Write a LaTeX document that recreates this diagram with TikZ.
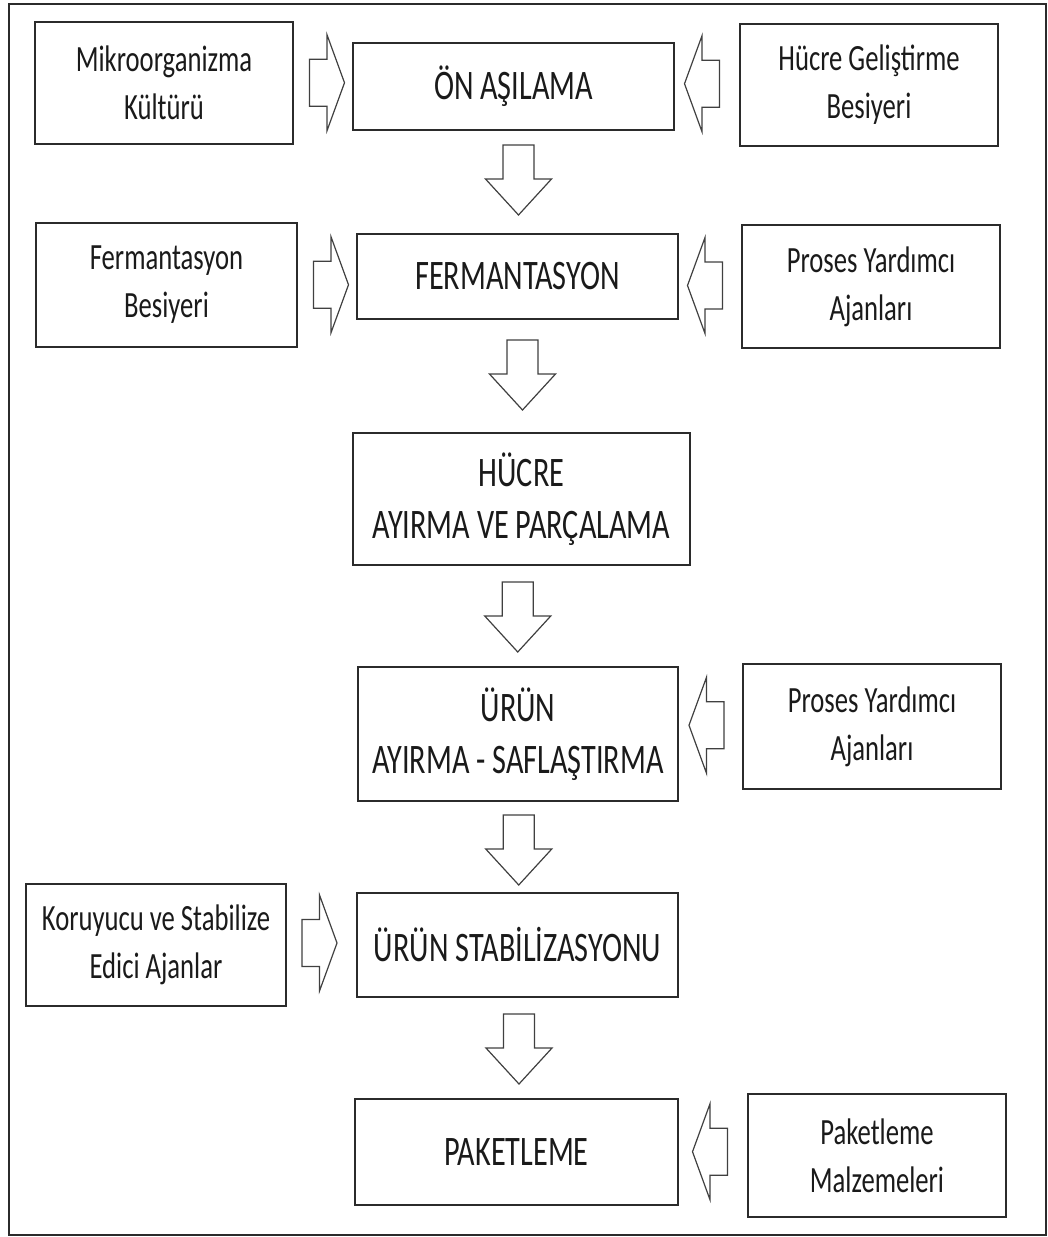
\documentclass[tikz,border=0pt]{standalone}
\usepackage{fontspec}
\setmainfont{Carlito}[FakeStretch=0.72]
\usetikzlibrary{calc}
\definecolor{boxline}{HTML}{2B2B2B}
\definecolor{arrline}{HTML}{404040}
\definecolor{txt}{HTML}{1A1A1A}
\tikzset{
  frame/.style={draw=boxline, line width=1.8pt},
  box/.style={draw=boxline, line width=1.8pt, fill=white, text=txt, align=center, inner sep=0pt,
    font=\fontsize{37}{48}\selectfont},
  mainbox/.style={box, font=\fontsize{42}{52}\selectfont},
  blockarrow/.style={draw=arrline, line width=1.2pt, fill=white, line join=miter},
}
\newcommand\rightblock[1]{\draw[blockarrow, shift={#1}] (-17.5,-23.5) -- (0,-23.5) -- (0,-48) -- (17.5,0) -- (0,48) -- (0,23.5) -- (-17.5,23.5) -- cycle;}
\newcommand\leftblock[1]{\draw[blockarrow, shift={#1}] (17.5,-23.5) -- (0,-23.5) -- (0,-48) -- (-17.5,0) -- (0,48) -- (0,23.5) -- (17.5,23.5) -- cycle;}
\newcommand\downblock[1]{\draw[blockarrow, shift={#1}] (-15.5,-35) -- (15.5,-35) -- (15.5,-1) -- (33,-1) -- (0,35) -- (-33,-1) -- (-15.5,-1) -- cycle;}
\begin{document}
\begin{tikzpicture}[x=1pt, y=-1pt]
\useasboundingbox (0,0) rectangle (1048,1237);
\draw[frame] (9,4) rectangle (1046,1235);

% row 1
\node[box, minimum width=258, minimum height=122] (mikro) at (164,83) {Mikroorganizma\\Kültürü};
\node[mainbox, minimum width=321, minimum height=87] (on) at (513.5,86.5) {ÖN AŞILAMA};
\node[box, minimum width=258, minimum height=122] (hgel) at (869,85) {Hücre Geliştirme\\Besiyeri};
% row 2
\node[box, minimum width=261, minimum height=124] (fbes) at (166.5,285) {Fermantasyon\\Besiyeri};
\node[mainbox, minimum width=321, minimum height=85] (ferm) at (517.5,276.5) {FERMANTASYON};
\node[box, minimum width=258, minimum height=123] (pya1) at (871,286.5) {Proses Yardımcı\\Ajanları};
% row 3
\node[mainbox, minimum width=337, minimum height=132] (hucre) at (521.5,499) {HÜCRE\\AYIRMA VE PARÇALAMA};
% row 4
\node[mainbox, minimum width=320, minimum height=134] (urun) at (518,734) {ÜRÜN\\AYIRMA - SAFLAŞTIRMA};
\node[box, minimum width=258, minimum height=125] (pya2) at (872,726.5) {Proses Yardımcı\\Ajanları};
% row 5
\node[box, minimum width=260, minimum height=122] (koru) at (156,945) {Koruyucu ve Stabilize\\Edici Ajanlar};
\node[mainbox, minimum width=321, minimum height=104] (stab) at (517.5,945) {ÜRÜN STABİLİZASYONU};
% row 6
\node[mainbox, minimum width=323, minimum height=106] (paket) at (516.5,1152) {PAKETLEME};
\node[box, minimum width=258, minimum height=123] (malz) at (877,1155.5) {Paketleme\\Malzemeleri};

% horizontal block arrows
\rightblock{($(mikro.east)!0.5!(on.west)+(4,-2)$)}
\leftblock{($(on.east)!0.5!(hgel.west)+(-5,-2)$)}
\rightblock{($(fbes.east)!0.5!(ferm.west)+(4,4)$)}
\leftblock{($(ferm.east)!0.5!(pya1.west)+(-5,4)$)}
\leftblock{($(urun.east)!0.5!(pya2.west)+(-4,-5)$)}
\rightblock{($(koru.east)!0.5!(stab.west)+(-2,-2)$)}
\leftblock{($(paket.east)!0.5!(malz.west)+(-3,-2)$)}

% vertical block arrows
\downblock{($(on.south)!0.5!(ferm.north)+(3,-2)$)}
\downblock{($(ferm.south)!0.5!(hucre.north)+(3,-1)$)}
\downblock{($(hucre.south)!0.5!(urun.north)+(-2,1)$)}
\downblock{($(urun.south)!0.5!(stab.north)+(1,3)$)}
\downblock{($(stab.south)!0.5!(paket.north)+(2,1)$)}
\end{tikzpicture}
\end{document}
